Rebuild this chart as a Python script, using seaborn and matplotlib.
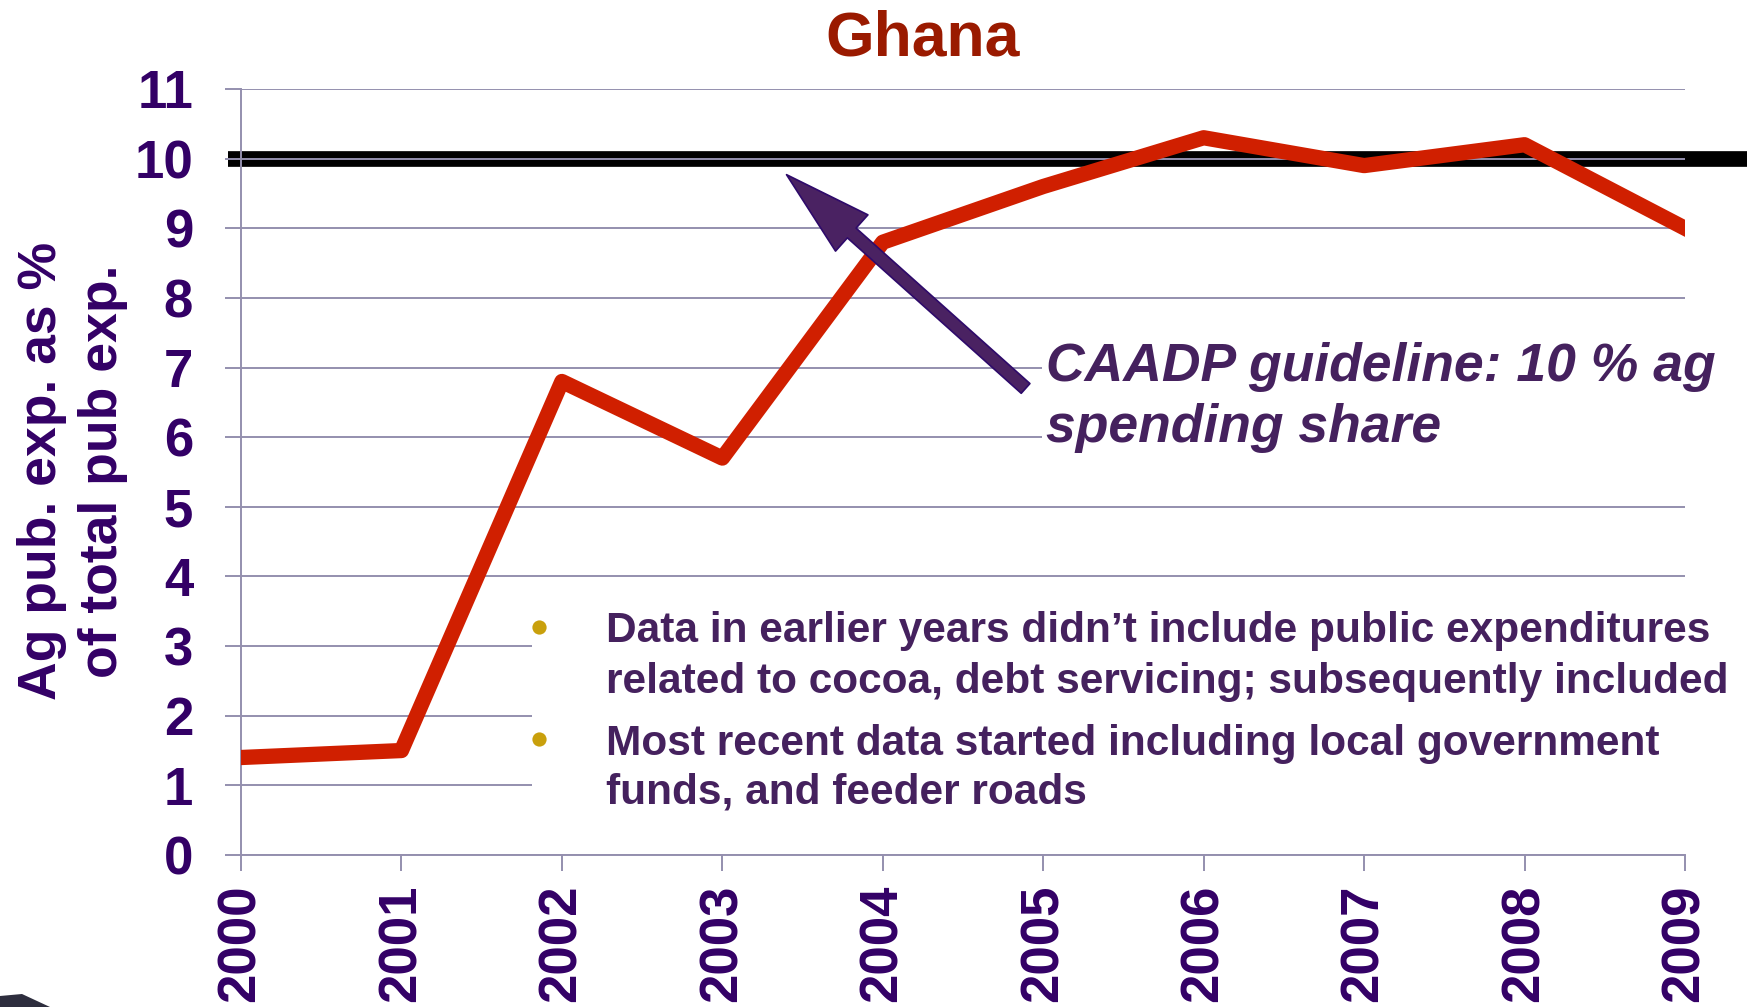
import matplotlib
matplotlib.use("Agg")
import matplotlib.pyplot as plt
import seaborn as sns
import pandas as pd
from matplotlib.patches import Rectangle, Polygon

# data
years = [2000, 2001, 2002, 2003, 2004, 2005, 2006, 2007, 2008, 2009]
ag_share = [1.4, 1.5, 6.8, 5.7, 8.8, 9.6, 10.3, 9.9, 10.2, 9.0]
guideline = 10
y_ticks = list(range(0, 12))

title = "Ghana"
ylabel_lines = ["Ag pub. exp. as %", "of total pub exp."]
guide_lines = ["CAADP guideline: 10 % ag", "spending share"]
note_lines = [
    ["Data in earlier years didn\u2019t include public expenditures",
     "related to cocoa, debt servicing; subsequently included"],
    ["Most recent data started including local government",
     "funds, and feeder roads"],
]

RED = "#d01f00"
GRID = "#948fae"
TICK_TXT = "#330066"
NOTE_TXT = "#45215e"
GOLD = "#c9a00c"
TITLE_C = "#9a1a00"

W, H = 1750, 1007


def fx(px):
    return px / W


def fy(py):
    return 1 - py / H


sns.set_style("white")
plt.rcParams["font.family"] = ["Liberation Sans", "DejaVu Sans"]

fig = plt.figure(figsize=(17.5, 10.07), dpi=100)
ax = fig.add_axes([fx(241), fy(855), fx(1685) - fx(241), fy(89) - fy(855)])

df = pd.DataFrame({"year": years, "share": ag_share})
sns.lineplot(data=df, x="year", y="share", ax=ax, color=RED, linewidth=11,
             zorder=3, solid_capstyle="projecting", solid_joinstyle="round")

# 10% guideline bar, runs past the plot on both sides
ax.plot([-0.009, 1.043], [guideline, guideline], transform=ax.get_yaxis_transform(),
        color="black", linewidth=11.3, solid_capstyle="butt", clip_on=False, zorder=0.3)

ax.set_xlim(years[0], years[-1])
ax.set_ylim(y_ticks[0], y_ticks[-1])
ax.set_xticks(years)
ax.set_yticks(y_ticks)
ax.set_xlabel("")
ax.set_ylabel("")
ax.set_axisbelow(True)
ax.grid(axis="y", color=GRID, linewidth=1.4)
ax.grid(axis="x", visible=False)
for side in ["top", "right"]:
    ax.spines[side].set_visible(False)
for side in ["left", "bottom"]:
    ax.spines[side].set_color(GRID)
    ax.spines[side].set_linewidth(1.4)

ax.tick_params(axis="y", length=11.5, width=1.4, color=GRID, pad=23,
               labelsize=38, labelcolor=TICK_TXT, left=True)
ax.tick_params(axis="x", length=11.5, width=1.4, color=GRID, pad=10,
               labelsize=38, labelcolor=TICK_TXT, labelrotation=90, bottom=True)
for lab in ax.get_xticklabels() + ax.get_yticklabels():
    lab.set_fontweight("bold")

# white panels behind the annotations
for x0, y0, x1, y1 in [(532, 600, 1750, 830), (1042, 320, 1750, 470)]:
    ax.add_patch(Rectangle((fx(x0), fy(y1)), fx(x1) - fx(x0), fy(y0) - fy(y1),
                           transform=fig.transFigure, facecolor="white",
                           edgecolor="none", zorder=1, clip_on=False))

# arrow pointing at the guideline
ax.annotate("", xy=(2003.40, 9.77), xytext=(2004.89, 6.70),
            arrowprops=dict(arrowstyle="simple,head_length=63,head_width=35,tail_width=9.4",
                            mutation_scale=1, shrinkA=0, shrinkB=0,
                            facecolor="#4a2262", edgecolor="#2e0a6a", linewidth=1.2),
            zorder=4)

fig.text(fx(923), fy(55), title, ha="center", va="baseline", fontsize=45,
         fontweight="bold", color=TITLE_C)

for xpx, line in zip([42, 103], ylabel_lines):
    fig.text(fx(xpx), fy(471), line, rotation=90, ha="center", va="center",
             fontsize=38.5, fontweight="bold", color=TICK_TXT)

for ypx, line in zip([381, 442], guide_lines):
    fig.text(fx(1046), fy(ypx), line, ha="left", va="baseline", fontsize=38.5,
             fontweight="bold", fontstyle="italic", color=NOTE_TXT, zorder=5)

bullet_y = [627, 739]
note_base = [[642, 693], [755, 803]]
for by, bases, lines in zip(bullet_y, note_base, note_lines):
    ax.scatter([fx(539)], [fy(by)], s=105, color=GOLD, transform=fig.transFigure,
               clip_on=False, zorder=5, linewidths=0)
    for ypx, line in zip(bases, lines):
        fig.text(fx(606), fy(ypx), line, ha="left", va="baseline", fontsize=30.5,
                 fontweight="bold", color=NOTE_TXT)

# slide decoration in the bottom-left corner
fig.add_artist(Polygon([(0, 0), (0, fy(996)), (fx(22), fy(994)), (fx(50), 0)],
                       closed=True, transform=fig.transFigure,
                       facecolor="#2e2e3e", edgecolor="none"))

fig.savefig("out.png", dpi=100)
